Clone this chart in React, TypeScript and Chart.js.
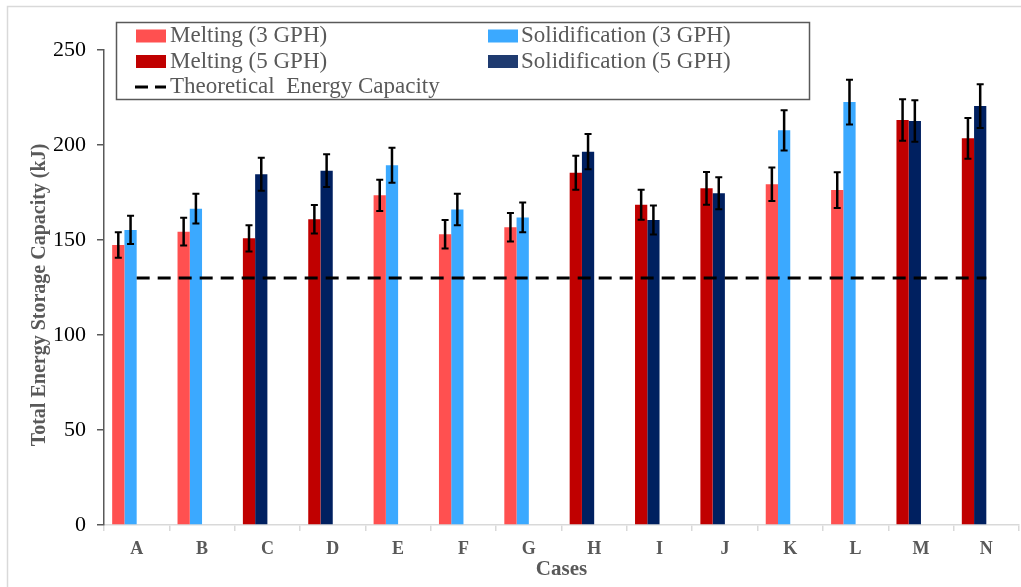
import { useEffect, useRef } from "react";
import { Chart, registerables } from "chart.js";

Chart.register(...registerables);

// ---------- data ----------
const cases = ["A", "B", "C", "D", "E", "F", "G", "H", "I", "J", "K", "L", "M", "N"];
const flowRateGPH = [3, 3, 5, 5, 3, 3, 3, 5, 5, 5, 3, 3, 5, 5];
const melting = [147.4, 154.4, 150.9, 160.9, 173.5, 153.0, 156.7, 185.4, 168.6, 177.2, 179.3, 176.3, 213.2, 203.5];
const meltingError = [6.7, 7.3, 6.9, 7.5, 8.2, 7.5, 7.5, 9.0, 7.9, 8.6, 8.8, 9.4, 10.9, 10.7];
const solidification = [155.3, 166.5, 184.6, 186.5, 189.3, 166.1, 161.9, 196.5, 160.5, 174.6, 207.7, 222.6, 212.6, 220.5];
const solidificationError = [7.4, 7.8, 8.7, 8.6, 9.2, 8.3, 7.8, 9.3, 7.6, 8.4, 10.6, 11.8, 10.9, 11.5];
const theoreticalCapacity = 130;
const yTicks = [0, 50, 100, 150, 200, 250];

const legendMelting3 = "Melting (3 GPH)";
const legendMelting5 = "Melting (5 GPH)";
const legendSolid3 = "Solidification (3 GPH)";
const legendSolid5 = "Solidification (5 GPH)";
const legendTheory = "Theoretical  Energy Capacity";
const xTitle = "Cases";
const yTitle = "Total Energy Storage Capacity (kJ)";

// ---------- styles ----------
const FONT = "'Liberation Serif', 'Times New Roman', serif";
const C_MELT3 = "#FF5050";
const C_MELT5 = "#C00000";
const C_SOLID3 = "#3BA9FF";
const C_SOLID5 = "#002060";
const GREY = "#595959";

const framePlugin = {
  id: "frame",
  beforeDraw(chart: any) {
    const { ctx, width, height } = chart;
    ctx.save();
    ctx.fillStyle = "#ffffff";
    ctx.fillRect(0, 0, width, height);
    ctx.strokeStyle = "#D9D9D9";
    ctx.lineWidth = 1.5;
    ctx.beginPath();
    ctx.moveTo(7.5, height);
    ctx.lineTo(7.5, 6.5);
    ctx.lineTo(width, 6.5);
    ctx.stroke();
    ctx.restore();
  },
};

const yTitlePlugin = {
  id: "yTitle",
  afterDraw(chart: any) {
    const { ctx } = chart;
    ctx.save();
    ctx.translate(40, 295);
    ctx.rotate(-Math.PI / 2);
    ctx.fillStyle = GREY;
    ctx.font = `bold 20px ${FONT}`;
    ctx.textAlign = "center";
    ctx.textBaseline = "middle";
    ctx.fillText(yTitle, 0, 0);
    ctx.restore();
  },
};

const errorBarPlugin = {
  id: "errorBars",
  afterDatasetsDraw(chart: any) {
    const { ctx } = chart;
    const y = chart.scales.y;
    const sets: [number, number[], number[]][] = [
      [0, melting, meltingError],
      [1, solidification, solidificationError],
    ];
    ctx.save();
    ctx.strokeStyle = "#000000";
    for (const [di, vals, errs] of sets) {
      const meta = chart.getDatasetMeta(di);
      meta.data.forEach((el: any, i: number) => {
        const x = el.x;
        const yt = y.getPixelForValue(vals[i] + errs[i]);
        const yb = y.getPixelForValue(vals[i] - errs[i]);
        ctx.lineWidth = 2.5;
        ctx.beginPath();
        ctx.moveTo(x, yt);
        ctx.lineTo(x, yb);
        ctx.stroke();
        ctx.lineWidth = 2;
        ctx.beginPath();
        ctx.moveTo(x - 3.5, yt);
        ctx.lineTo(x + 3.5, yt);
        ctx.moveTo(x - 3.5, yb);
        ctx.lineTo(x + 3.5, yb);
        ctx.stroke();
      });
    }
    ctx.restore();
  },
};

const legendPlugin = {
  id: "boxLegend",
  afterDraw(chart: any) {
    const { ctx } = chart;
    ctx.save();
    ctx.fillStyle = "#ffffff";
    ctx.fillRect(116, 22, 693, 77);
    ctx.strokeStyle = GREY;
    ctx.lineWidth = 1.5;
    ctx.strokeRect(116.5, 22.5, 693, 77);

    const rows = [36, 61.5, 87];
    const swatch = (x: number, yc: number, color: string) => {
      ctx.fillStyle = color;
      ctx.fillRect(x, yc - 6.5, 30, 13);
    };
    swatch(136, rows[0], C_MELT3);
    swatch(136, rows[1], C_MELT5);
    swatch(488, rows[0], C_SOLID3);
    swatch(488, rows[1], "#1F3B70");

    ctx.strokeStyle = "#000000";
    ctx.lineWidth = 3;
    ctx.beginPath();
    ctx.moveTo(135, rows[2]);
    ctx.lineTo(148, rows[2]);
    ctx.moveTo(155, rows[2]);
    ctx.lineTo(166, rows[2]);
    ctx.stroke();

    ctx.fillStyle = GREY;
    ctx.font = `23px ${FONT}`;
    ctx.textBaseline = "middle";
    ctx.textAlign = "left";
    ctx.fillText(legendMelting3, 170, rows[0]);
    ctx.fillText(legendMelting5, 170, rows[1]);
    ctx.fillText(legendTheory, 170, rows[2]);
    ctx.fillText(legendSolid3, 521, rows[0]);
    ctx.fillText(legendSolid5, 521, rows[1]);
    ctx.restore();
  },
};

export default function App() {
  const canvasRef = useRef<HTMLCanvasElement | null>(null);

  useEffect(() => {
    if (!canvasRef.current) return;
    const spacer = () => ({
      type: "bar" as const,
      label: "",
      data: cases.map(() => null),
      backgroundColor: "rgba(0,0,0,0)",
      order: 1,
    });
    const chart = new Chart(canvasRef.current, {
      type: "bar",
      data: {
        labels: cases,
        datasets: [
          {
            type: "bar",
            label: "Melting",
            data: melting,
            backgroundColor: flowRateGPH.map((f) => (f === 3 ? C_MELT3 : C_MELT5)),
            borderWidth: 0,
            order: 1,
          },
          {
            type: "bar",
            label: "Solidification",
            data: solidification,
            backgroundColor: flowRateGPH.map((f) => (f === 3 ? C_SOLID3 : C_SOLID5)),
            borderWidth: 0,
            order: 1,
          },
          spacer(),
          spacer(),
          {
            type: "line",
            label: legendTheory,
            data: cases.map(() => theoreticalCapacity),
            borderColor: "#000000",
            borderWidth: 3,
            borderDash: [13, 8],
            pointRadius: 0,
            fill: false,
            order: 0,
          },
        ] as any,
      },
      options: {
        responsive: true,
        maintainAspectRatio: false,
        animation: false,
        datasets: { bar: { categoryPercentage: 0.75, barPercentage: 1.0 } },
        layout: { padding: { top: 50, right: 2, bottom: 0, left: 0 } },
        plugins: { legend: { display: false }, tooltip: { enabled: false } },
        scales: {
          x: {
            offset: true,
            grid: {
              display: true,
              drawOnChartArea: false,
              drawTicks: true,
              tickLength: 6,
              color: "#D9D9D9",
              lineWidth: 1.5,
              offset: true,
            },
            border: { display: true, color: "#D9D9D9", width: 1.5 },
            ticks: {
              font: { family: FONT, size: 18, weight: "bold" },
              color: GREY,
              padding: 8,
              maxRotation: 0,
              autoSkip: false,
            },
            title: {
              display: true,
              text: xTitle,
              font: { family: FONT, size: 21, weight: "bold" },
              color: GREY,
              padding: { top: 0, bottom: 5 },
            },
            afterFit(s: any) {
              s.height = 62;
            },
          },
          y: {
            min: 0,
            max: 250,
            grid: {
              drawOnChartArea: false,
              drawTicks: true,
              tickLength: 7,
              color: GREY,
              lineWidth: 1.5,
            },
            border: { display: true, color: GREY, width: 1.5 },
            ticks: { font: { family: FONT, size: 22 }, color: "#000000", padding: 11 },
            afterBuildTicks(s: any) {
              s.ticks = yTicks.map((v) => ({ value: v }));
            },
            title: { display: false },
            afterFit(s: any) {
              s.width = 104;
            },
          },
        },
      } as any,
      plugins: [framePlugin, errorBarPlugin, legendPlugin, yTitlePlugin],
    });
    return () => chart.destroy();
  }, []);

  return (
    <div style={{ position: "absolute", left: 0, top: 0, width: 1021, height: 587 }}>
      <canvas ref={canvasRef} />
    </div>
  );
}
